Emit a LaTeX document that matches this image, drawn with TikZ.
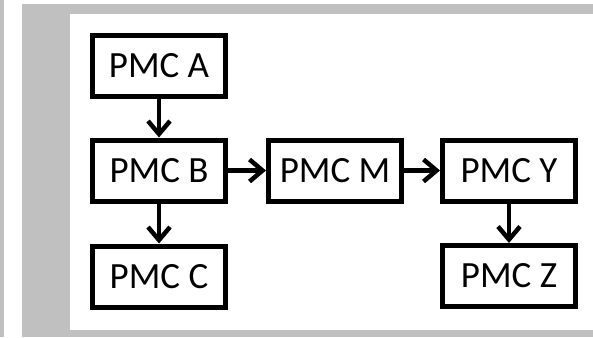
\documentclass[tikz,border=0pt]{standalone}
\usepackage{fontspec}
\setmainfont{Carlito}
\usetikzlibrary{arrows.meta}
\definecolor[named]{FrameGray}{RGB}{192,192,192}
\tikzset{pmc/.style={
    draw,
    line width=5pt,
    minimum width=133pt,
    minimum height=61pt,
    inner sep=0pt,
    font=\fontsize{37}{40}\selectfont
  },
  flow/.style={line width=4.5pt,-{Straight Barb[length=13pt,width=22pt]}}
}

\begin{document}
\begin{tikzpicture}[x=1pt,y=-1pt]
  \useasboundingbox (0,0) rectangle (593,337);
  % frames
  \fill[FrameGray] (0,0) rectangle (4,337);
  \fill[FrameGray] (22,4) rectangle (593,337);
  \fill[white] (70,14) rectangle (593,330);
  % boxes
  \node[pmc] (A) at (159,66) {PMC A};
  \node[pmc] (B) at (159,170.5) {PMC B};
  \node[pmc] (C) at (159,276.5) {PMC C};
  \node[pmc] (M) at (335,170.5) {PMC M};
  \node[pmc] (Y) at (509,170.5) {PMC Y};
  \node[pmc] (Z) at (509,276) {PMC Z};
  % links
  \draw[flow] (A) -- (B);
  \draw[flow] (B) -- (C);
  \draw[flow] (B) -- (M);
  \draw[flow] (M) -- (Y);
  \draw[flow] (Y) -- (Z);
\end{tikzpicture}
\end{document}
